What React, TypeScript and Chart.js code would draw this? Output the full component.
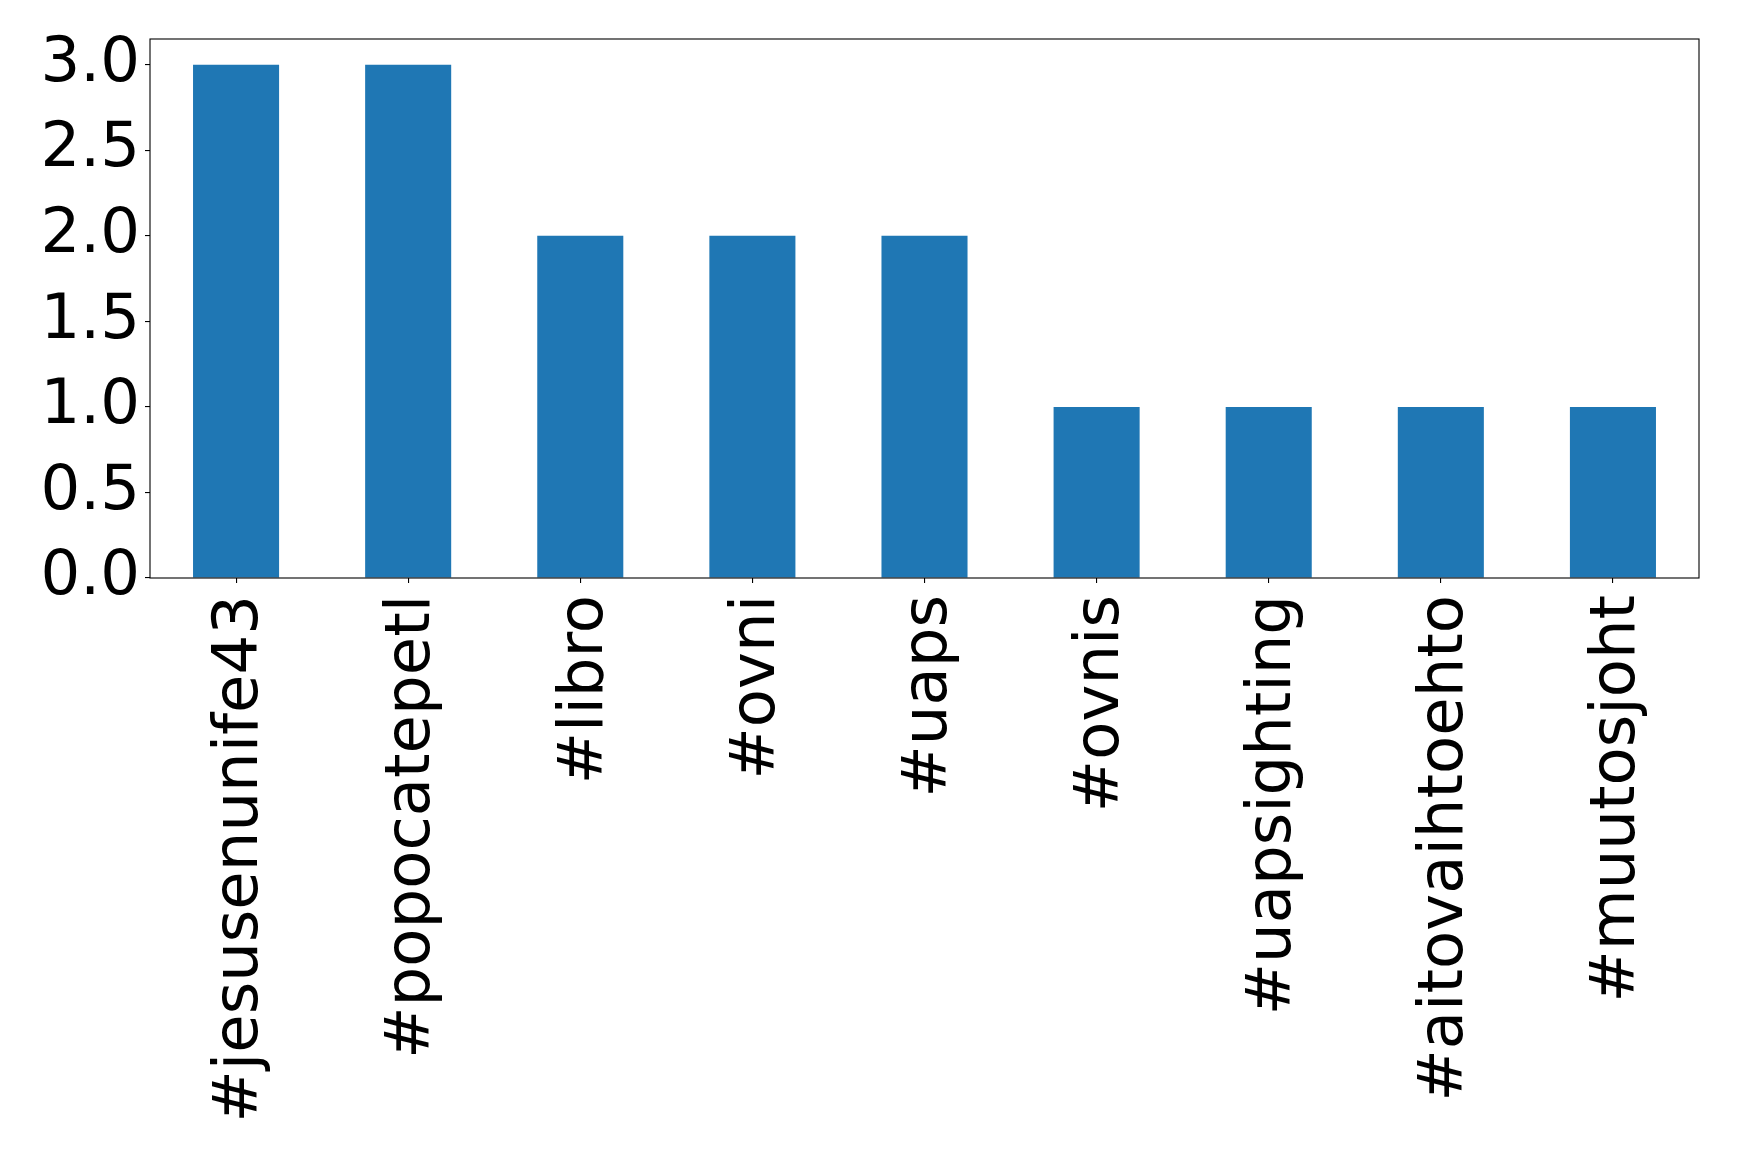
import React, { useEffect, useRef } from "react";
import { Chart, registerables } from "chart.js";

Chart.register(...registerables);

const categories = [
  "#jesusenunife43",
  "#popocatepetl",
  "#libro",
  "#ovni",
  "#uaps",
  "#ovnis",
  "#uapsighting",
  "#aitovaihtoehto",
  "#muutosjoht",
];
const counts = [3, 3, 2, 2, 2, 1, 1, 1, 1];
const yTickValues = [0, 0.5, 1.0, 1.5, 2.0, 2.5, 3.0];

const W = 1739;
const H = 1155;

const frame = {
  id: "frame",
  afterDatasetsDraw(chart: any) {
    const { ctx, chartArea } = chart;
    ctx.save();
    ctx.strokeStyle = "#000";
    ctx.lineWidth = 1.1;
    ctx.strokeRect(chartArea.left, chartArea.top, chartArea.right - chartArea.left, chartArea.bottom - chartArea.top);
    ctx.restore();
  },
};

export default function App() {
  const ref = useRef<HTMLCanvasElement | null>(null);
  useEffect(() => {
    if (!ref.current) return;
    const chart = new Chart(ref.current, {
      type: "bar",
      data: {
        labels: categories,
        datasets: [
          {
            data: counts,
            backgroundColor: "#1f77b4",
            borderWidth: 0,
            categoryPercentage: 1,
            barPercentage: 0.5,
          },
        ],
      },
      plugins: [frame],
      options: {
        animation: false,
        responsive: false,
        devicePixelRatio: 1,
        layout: { padding: { top: 39, right: 40, left: 0, bottom: 0 } },
        plugins: { legend: { display: false }, tooltip: { enabled: false } },
        scales: {
          x: {
            grid: {
              offset: false,
              drawOnChartArea: false,
              drawTicks: true,
              tickLength: 5,
              color: "#000",
              lineWidth: 1.1,
            },
            border: { display: false },
            ticks: {
              font: { family: "'DejaVu Sans'", size: 62.5 },
              color: "#000",
              minRotation: 90,
              maxRotation: 90,
              autoSkip: false,
              padding: 12,
              labelOffset: 5,
            },
            afterFit: (s: any) => {
              s.height = H - 578;
            },
          },
          y: {
            min: 0,
            max: 3.15,
            grid: {
              drawOnChartArea: false,
              drawTicks: true,
              tickLength: 5,
              color: "#000",
              lineWidth: 1.1,
            },
            border: { display: false },
            ticks: {
              font: { family: "'DejaVu Sans'", size: 62.5, lineHeight: 1 },
              color: "#000",
              padding: 5,
              callback: (v: any) => Number(v).toFixed(1),
            },
            afterBuildTicks: (s: any) => {
              s.ticks = yTickValues.map((v) => ({ value: v }));
            },
            afterFit: (s: any) => {
              s.width = 150;
            },
          },
        },
      },
    });
    return () => chart.destroy();
  }, []);
  return (
    <div style={{ position: "absolute", left: 0, top: 0, width: W, height: H, background: "#fff" }}>
      <canvas ref={ref} width={W} height={H} style={{ width: W, height: H, display: "block" }} />
    </div>
  );
}
